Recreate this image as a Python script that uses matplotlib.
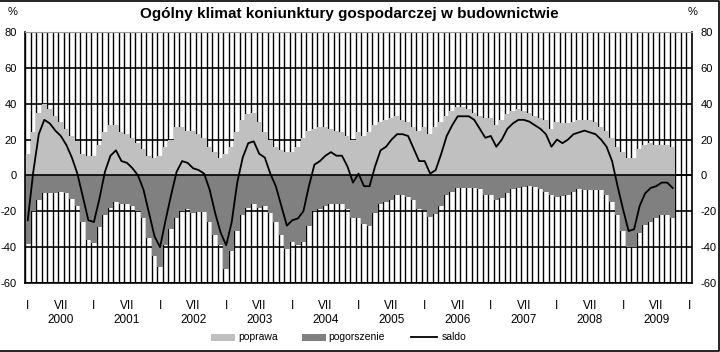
import numpy as np
import matplotlib
matplotlib.use("Agg")
import matplotlib.pyplot as plt
from matplotlib.patches import Rectangle
from matplotlib.lines import Line2D


# miesięczne dane, I 2000 - X 2009
poprawa = [
    12, 24, 35, 40, 37, 33, 30, 26, 22, 19, 12, 11,
    11, 17, 24, 28, 28, 24, 23, 21, 18, 15, 11, 10,
    11, 16, 20, 27, 27, 25, 25, 23, 21, 16, 13, 10,
    12, 16, 24, 31, 34, 35, 30, 24, 20, 16, 14, 13,
    13, 16, 21, 25, 26, 27, 27, 26, 25, 24, 22, 20,
    24, 22, 24, 28, 30, 31, 32, 33, 31, 30, 27, 25,
    27, 23, 27, 30, 33, 36, 38, 38, 37, 35, 33, 32,
    32, 28, 31, 34, 36, 37, 36, 35, 33, 32, 31, 26,
    30, 29, 29, 30, 31, 31, 31, 30, 27, 25, 21, 16,
    13, 10, 10, 15, 17, 18, 17, 17, 17, 16,
]

pogorszenie = [
    -38, -20, -13.5, -10, -10, -10, -9, -10, -13, -17, -26, -36,
    -37.5, -29, -22, -18, -15, -16, -16, -17, -20, -24, -35, -45,
    -51, -39, -30, -24, -20, -19, -21, -20.5, -20.5, -26, -33, -39,
    -52, -42, -31, -22, -18, -16, -18, -17, -21, -26, -33, -41,
    -37, -39, -37, -28, -20, -18.5, -17, -16, -16, -16, -19, -23.5,
    -23.5, -27, -28, -21, -16, -15, -13.5, -11, -11, -12, -13.5, -19,
    -19.5, -23, -21.5, -17, -11, -9, -7, -7, -7, -7, -7.5, -11,
    -11, -13.5, -12.5, -10, -7.5, -7, -6.5, -6, -6.5, -7.5, -9, -11,
    -12, -11.5, -11, -9, -7.5, -8, -8, -8, -8, -11, -15, -22,
    -31, -40, -40, -32, -27.5, -26, -24, -22, -22, -23.5,
]

saldo = [
    -25, 2, 23, 31, 29, 25, 22, 17, 10, 1, -12, -25,
    -26, -13, 2, 11, 14, 8, 7, 4, 0, -8, -21, -34,
    -40, -25, -11, 2, 8, 7, 4, 3, 1, -8, -21, -32,
    -39, -26, -4, 10, 18, 19, 12, 10, 1, -6, -17, -28,
    -25, -24, -20, -6, 6, 8, 11, 13, 11, 11, 5, -4,
    1, -6, -6, 5, 14, 16, 20, 23, 23, 22, 15, 8,
    8, 1, 3, 12, 22, 28, 33, 33, 33, 31, 26, 21,
    22, 16, 20, 26, 29, 31, 31, 30, 28, 26, 23, 16,
    20, 18, 20, 23, 24, 25, 24, 23, 20, 16, 8, -6,
    -19, -31, -30, -17, -10, -7, -6, -4, -4, -7,
]

years = list(range(2000, 2010))
y_ticks = [-60, -40, -20, 0, 20, 40, 60, 80]

LIGHT = "#c0c0c0"
DARK = "#808080"
W, H = 720, 352


def main() -> None:

    plt.rcParams["font.family"] = ["Liberation Sans", "DejaVu Sans"]

    fig = plt.figure(figsize=(W / 100, H / 100), dpi=100)

    ax = fig.add_axes(
        [25 / W, 1 - 283 / H, 667 / W, 251 / H]
    )

    x = np.arange(len(saldo))
    n_months = len(years) * 12 + 1

    ax.bar(x, poprawa, width=1.0, color=LIGHT, linewidth=0, zorder=2)
    ax.bar(x, pogorszenie, width=1.0, color=DARK, linewidth=0, zorder=2)

    ax.axhline(0, color="black", linewidth=1.2, zorder=3)

    ax.plot(x, saldo, color="black", linewidth=1.3, zorder=4)

    ax.set_xlim(-0.5, n_months - 0.5)
    ax.set_ylim(-60, 80)

    # siatka: pionowe linie co miesiąc, poziome co 20
    ax.set_xticks(np.arange(-0.5, n_months, 1), minor=True)
    ax.set_yticks(y_ticks)
    ax.set_yticklabels([str(v) for v in y_ticks])
    ax.grid(which="minor", axis="x", color="black", linewidth=1.0)
    ax.grid(which="major", axis="y", color="black", linewidth=1.2)
    ax.set_axisbelow(True)

    ticks = []
    labels = []
    for i, yr in enumerate(years):
        ticks += [i * 12, i * 12 + 6]
        labels += ["I", f"VII\n{yr}"]
    ticks.append(len(years) * 12)
    labels.append("I")

    ax.set_xticks(ticks)
    ax.set_xticklabels(labels, fontsize=8.5, linespacing=1.25)

    ax.tick_params(axis="x", which="both", length=0, pad=12)
    ax.tick_params(
        axis="y",
        which="both",
        length=0,
        pad=6,
        labelsize=8,
        labelleft=True,
        labelright=True,
    )

    for side in ("left", "right", "bottom"):
        ax.spines[side].set_linewidth(1.2)
    ax.spines["top"].set_color("#999999")
    ax.spines["top"].set_linewidth(0.8)

    fig.text(13 / W, 1 - 12 / H, "%", fontsize=8, ha="center", va="center")
    fig.text(693 / W, 1 - 12 / H, "%", fontsize=8, ha="center", va="center")

    fig.text(
        349 / W,
        1 - 14 / H,
        "Ogólny klimat koniunktury gospodarczej w budownictwie",
        fontsize=11,
        fontweight="bold",
        ha="center",
        va="center",
    )

    # legenda
    ly = 1 - 337 / H
    ph = 7 / H
    fig.patches.append(
        Rectangle((211 / W, ly - ph / 2), 24 / W, ph,
                  transform=fig.transFigure, color=LIGHT, linewidth=0)
    )
    fig.text(238 / W, ly, "poprawa", fontsize=7.5, va="center")

    fig.patches.append(
        Rectangle((302 / W, ly - ph / 2), 24 / W, ph,
                  transform=fig.transFigure, color=DARK, linewidth=0)
    )
    fig.text(328 / W, ly, "pogorszenie", fontsize=7.5, va="center")

    fig.lines.append(
        Line2D([411 / W, 437 / W], [ly, ly],
               transform=fig.transFigure, color="black", linewidth=1.3)
    )
    fig.text(442 / W, ly, "saldo", fontsize=7.5, va="center")

    # ramka obrazka (góra, prawa, dół)
    fig.lines.append(
        Line2D([0, 0.999, 0.999, 0], [0.998, 0.998, 0.003, 0.003],
               transform=fig.transFigure, color="black", linewidth=1.2)
    )

    fig.savefig("out.png", dpi=100)


if __name__ == "__main__":
    main()
